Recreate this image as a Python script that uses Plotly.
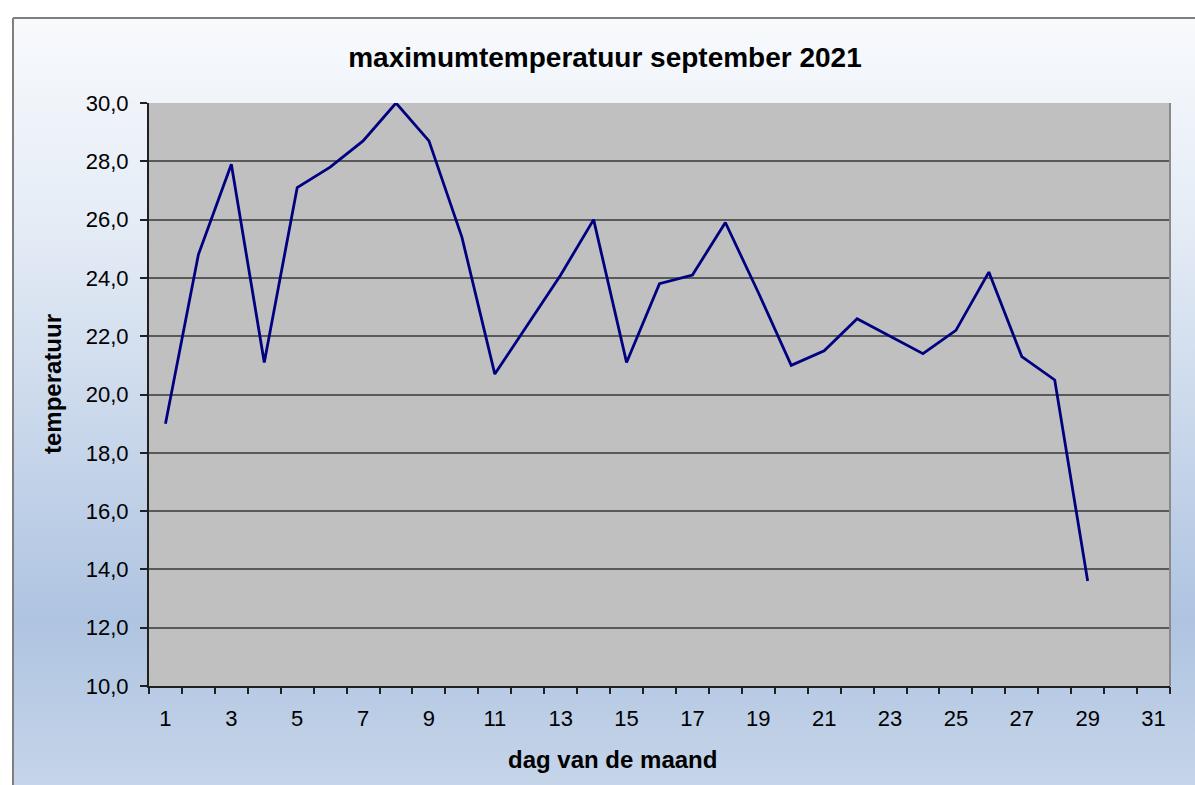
import plotly.graph_objects as go

# ---- data ----
days = list(range(1, 30))
tmax = [19.0, 24.8, 27.9, 21.1, 27.1, 27.8, 28.7, 30.0, 28.7, 25.4,
        20.7, 22.4, 24.1, 26.0, 21.1, 23.8, 24.1, 25.9, 23.5, 21.0,
        21.5, 22.6, 22.0, 21.4, 22.2, 24.2, 21.3, 20.5, 13.6]
label_days = list(range(1, 32, 2))
label_text = [str(d) for d in label_days]
boundaries = [d + 0.5 for d in range(0, 32)]
y_ticks = list(range(10, 31, 2))

title_text = "maximumtemperatuur september 2021"
x_title = "dag van de maand"
y_title = "temperatuur"

FONT = "Liberation Sans, Arial, sans-serif"
W, H = 1195, 785
PL, PR, PT, PB = 149, 1170, 103, 686
L, T = PL, PT
R = W - PR
B = H - PB
pw, ph = W - L - R, H - T - B

def px(xw):
    return (xw - L) / pw

def py(yw):
    return (H - B - yw) / ph

svg = ("data:image/svg+xml;utf8,"
       "<svg xmlns='http://www.w3.org/2000/svg' width='100' height='100' preserveAspectRatio='none'>"
       "<defs><linearGradient id='g' x1='0' y1='0' x2='0' y2='1'>"
       "<stop offset='0' stop-color='%23F8FAFD'/>"
       "<stop offset='0.25' stop-color='%23E6EDF6'/>"
       "<stop offset='0.78' stop-color='%23AFC4E1'/>"
       "<stop offset='1' stop-color='%23C6D5E9'/>"
       "</linearGradient></defs>"
       "<rect width='100' height='100' fill='url(%23g)'/></svg>")

fig = go.Figure()
fig.add_trace(go.Scatter(
    x=days, y=tmax, mode="lines",
    line=dict(color="#000080", width=2.8),
    showlegend=False, hoverinfo="x+y", cliponaxis=False,
))
fig.add_trace(go.Scatter(x=[], y=[], xaxis="x2", showlegend=False))

fig.update_layout(
    width=W, height=H,
    margin=dict(l=L, r=R, t=T, b=B),
    paper_bgcolor="white",
    plot_bgcolor="#C0C0C0",
    separators=",.",
    font=dict(family=FONT, color="black", size=22),
    title=dict(text="<b>" + title_text + "</b>", x=605 / W, xref="container",
               xanchor="center", y=1 - 57 / H, yref="container", yanchor="middle",
               font=dict(size=28, family=FONT, color="black")),
    xaxis=dict(
        range=[0.5, 31.5], tickmode="array", tickvals=label_days, ticktext=label_text,
        ticks="", showgrid=False, zeroline=False, showline=True,
        linecolor="#202020", linewidth=2, tickfont=dict(size=22),
        ticklabelstandoff=12,
    ),
    xaxis2=dict(
        overlaying="x", anchor="y", side="bottom",
        range=[0.5, 31.5], tickmode="array", tickvals=boundaries,
        ticks="outside", ticklen=7, tickwidth=1.5, tickcolor="#202020",
        showticklabels=False, showgrid=False, zeroline=False, showline=False,
    ),
    yaxis=dict(
        range=[10, 30], tickmode="array", tickvals=y_ticks, tickformat=".1f",
        ticks="outside", ticklen=7, tickwidth=1.5, tickcolor="#202020",
        showgrid=True, gridcolor="#595959", gridwidth=2,
        zeroline=False, showline=True, linecolor="#202020", linewidth=2,
        tickfont=dict(size=22), ticklabelstandoff=7,
    ),
    images=[dict(
        source=svg, xref="paper", yref="paper",
        x=px(13), y=py(18), sizex=px(1200) - px(13), sizey=py(18) - py(790),
        xanchor="left", yanchor="top", sizing="stretch", layer="below",
    )],
    shapes=[
        dict(type="rect", xref="paper", yref="paper", x0=0, x1=1, y0=0, y1=1,
             fillcolor="#C0C0C0", line=dict(width=0), layer="below"),
        dict(type="line", xref="paper", yref="paper", x0=px(13), x1=px(1200),
             y0=py(18), y1=py(18), line=dict(color="#7F7F7F", width=2)),
        dict(type="line", xref="paper", yref="paper", x0=px(13), x1=px(13),
             y0=py(18), y1=py(790), line=dict(color="#7F7F7F", width=2)),
        dict(type="line", xref="paper", yref="paper", x0=1, x1=1, y0=0, y1=1,
             line=dict(color="#8A8A8A", width=2)),
    ],
    annotations=[
        dict(text="<b>" + x_title + "</b>", xref="paper", yref="paper",
             x=px(612), y=py(759), xanchor="center", yanchor="middle",
             showarrow=False, font=dict(size=24, family=FONT, color="black")),
        dict(text="<b>" + y_title + "</b>", xref="paper", yref="paper",
             x=px(52), y=py(384), xanchor="center", yanchor="middle", textangle=-90,
             showarrow=False, font=dict(size=24, family=FONT, color="black")),
    ],
)

fig.write_html(
    "out.html",
    config={"displayModeBar": False},
    post_script="document.body.style.margin='0';document.body.style.overflow='hidden';",
)
